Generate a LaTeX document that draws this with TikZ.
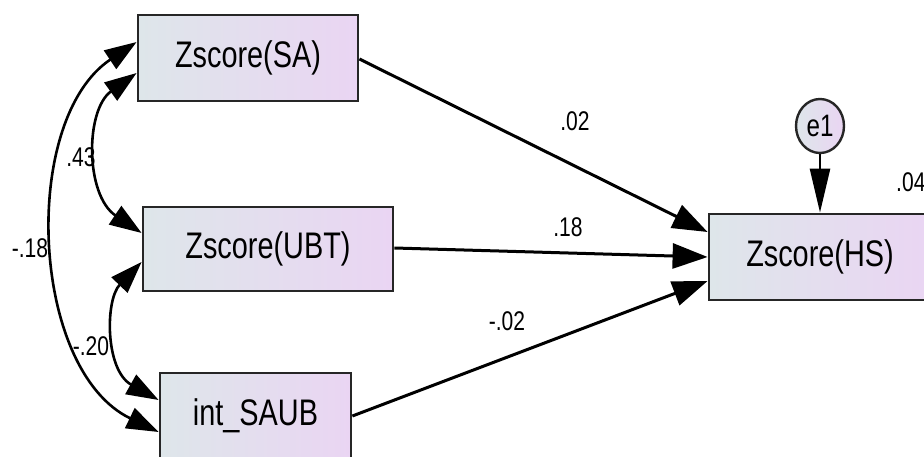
\documentclass[tikz,border=0pt]{standalone}
\usepackage{fontspec}
\setmainfont{Liberation Sans}
\newfontfamily\narrowfont[FakeStretch=0.78]{Liberation Sans}
\usetikzlibrary{arrows.meta,shapes.geometric}
\definecolor{leftc}{RGB}{222,230,234}
\definecolor{rightc}{RGB}{234,213,243}
\begin{document}
\begin{tikzpicture}[x=1pt,y=-1pt,
  obs/.style={draw=black!85,line width=2.8pt,rectangle,left color=leftc,right color=rightc,
    font=\narrowfont\fontsize{37}{37}\selectfont,inner sep=0pt},
  err/.style={draw=black!85,line width=2.4pt,ellipse,left color=leftc,right color=rightc,
    minimum width=48pt,minimum height=54pt,inner sep=0pt,font=\narrowfont\fontsize{31}{31}\selectfont},
  path/.style={line width=3pt,-{Triangle[length=35pt,width=25pt]}},
  cov/.style={line width=2.6pt,{Triangle[length=32pt,width=22pt]}-{Triangle[length=32pt,width=22pt]}},
  lab/.style={font=\narrowfont\fontsize{27}{27}\selectfont,inner sep=0pt}]
\useasboundingbox (0,0) rectangle (924,457);
\clip (0,0) rectangle (924,457);
\node[obs,minimum width=220pt,minimum height=86pt] (sa) at (248,58) {Zscore(SA)};
\node[obs,minimum width=250pt,minimum height=84pt] (ubt) at (268,249) {Zscore(UBT)};
\node[obs,minimum width=191pt,minimum height=86pt] (int) at (255.5,416) {int\_SAUB};
\node[obs,minimum width=222pt,minimum height=86pt] (hs) at (820,257) {Zscore(HS)};
\node[err] (e1) at (820,126) {e1};
\coordinate (saR) at ([yshift=-1pt]sa.east);
\coordinate (hs1) at (hs.west |- 0,232);
\coordinate (hs2) at (hs.west |- 0,257);
\coordinate (hs3) at (hs.west |- 0,281);
\coordinate (ubtR) at (ubt.east |- 0,248);
\coordinate (intR) at (int.east);
\draw[path] (saR) -- (hs1);
\draw[path] (ubtR) -- (hs2);
\draw[path] (intR) -- (hs3);
\draw[line width=2.6pt,-{Triangle[length=44pt,width=20pt]}] (e1.south) -- (hs.north);
\coordinate (sa1) at (sa.west |- 0,42);
\coordinate (sa2) at (sa.west |- 0,73);
\coordinate (ubt1) at (ubt.west |- 0,233);
\coordinate (ubt2) at (ubt.west |- 0,262);
\coordinate (int1) at (int.west |- 0,400);
\coordinate (int2) at (int.west |- 0,432);
\draw[cov] (sa2) .. controls (85,110) and (85,195) .. (ubt1);
\draw[cov] (sa1) .. controls (20,120) and (30,370) .. (int2);
\draw[cov] (ubt2) .. controls (105,300) and (105,370) .. (int1);
\node[lab] (l02a) at (575,121) {.02};
\node[lab] (l18a) at (568,227) {.18};
\node[lab] (l02b) at (507,321) {-.02};
\node[lab] (l43) at (81,157) {.43};
\node[lab] (l18) at (30,248) {-.18};
\node[lab] (l20) at (91,346) {-.20};
\node[lab,anchor=west] (l04) at (896,182) {.04};
\end{tikzpicture}
\end{document}
